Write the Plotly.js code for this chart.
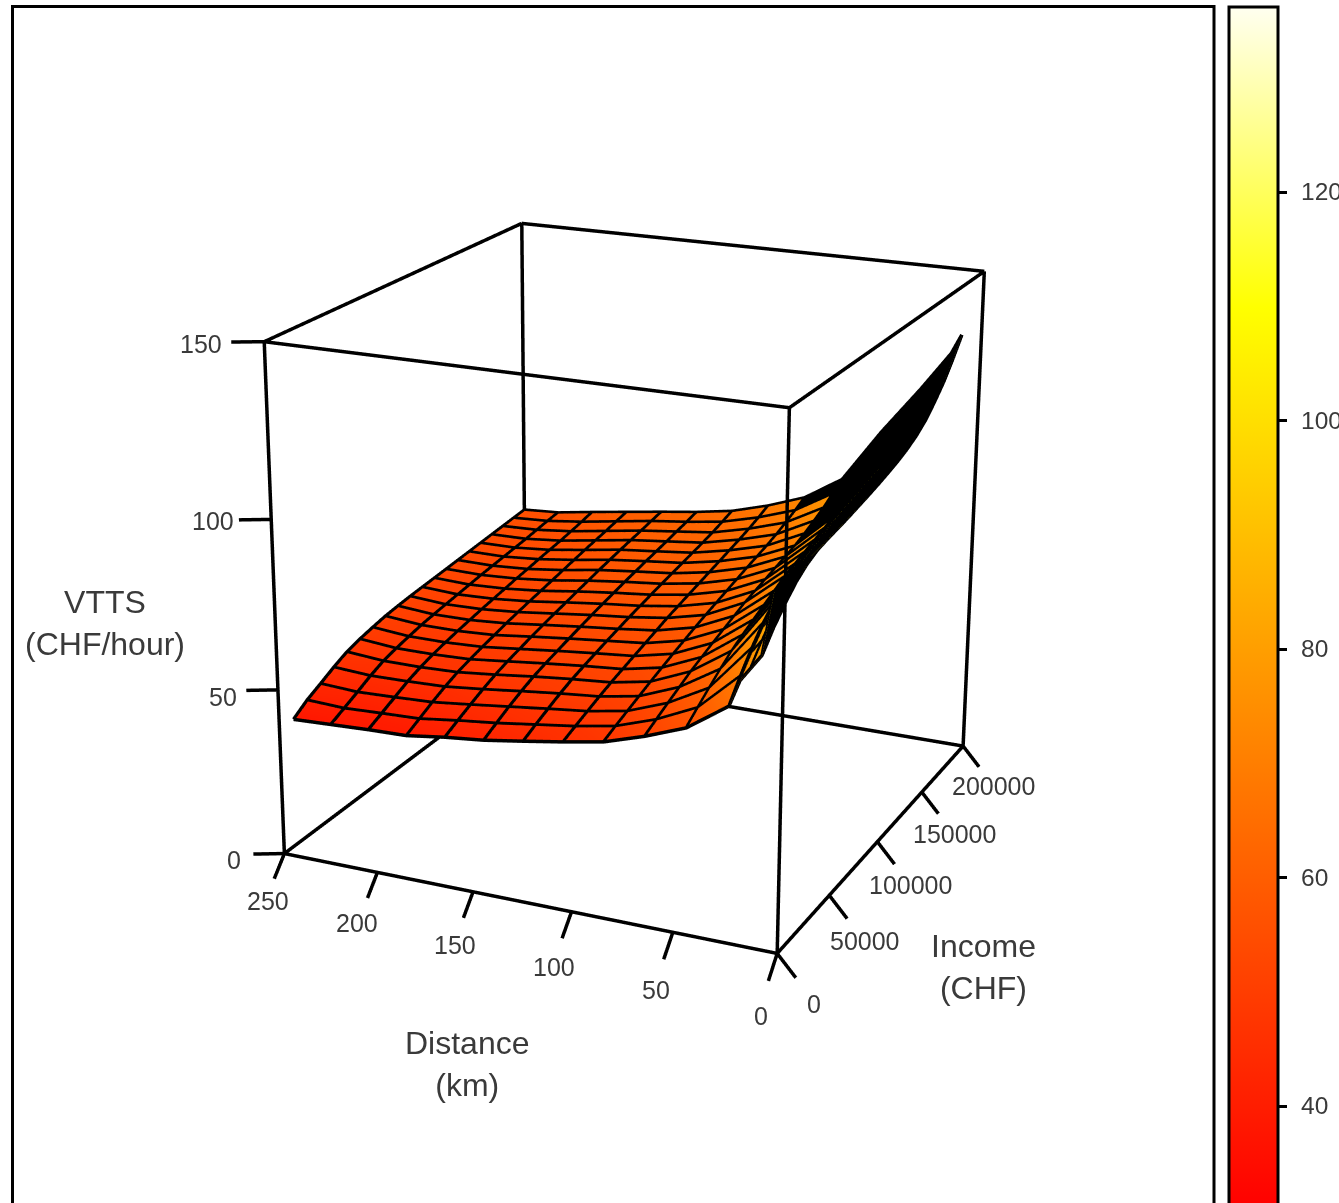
<!DOCTYPE html><html><head><meta charset="utf-8"><script src="https://cdn.plot.ly/plotly-3.0.1.min.js"></script>
<style>html,body{margin:0;padding:0;background:#fff;overflow:hidden;width:1339px;height:1203px}#g{position:absolute;left:0;top:-642px;width:1400px;height:2485px}svg text{filter:blur(0.45px)}</style></head><body><div id="g"></div>
<script>
const distances=[250,230,210,190,170,150,130,110,90,70,50,30,25,20,15,10];
const incomes=[10000,20000,30000,40000,50000,60000,70000,80000,90000,100000,110000,120000,130000,140000,150000,160000,170000,180000,190000,200000];
const vttsD250=[38,41,43.2,45.5,47.5,48.8,49.8,50.7,51.3,51.8,52.2,52.6,53,53.4,53.8,54.2,54.6,55,55.4,55.8];
const vttsD230=[38.5,40.5,42.6,44.8,46.6,47.8,48.8,49.7,50.4,51,51.6,52.2,52.8,53.3,53.8,54.3,54.8,55.4,56,56.5];
const vttsD210=[39,41,43,45,46.6,47.8,48.8,49.7,50.5,51.3,52,52.7,53.4,54,54.7,55.3,55.9,56.6,57.4,58.3];
const vttsD190=[39.3,41.4,43.5,45.4,47,48.2,49.3,50.3,51.3,52.2,53,53.8,54.6,55.4,56.2,57,57.7,58.4,59.2,60];
const vttsD170=[40.9,42.9,44.8,46.6,48.2,49.5,50.6,51.7,52.7,53.6,54.5,55.4,56.3,57.2,58,58.8,59.5,60.2,61,61.7];
const vttsD150=[42.1,44.2,46.2,48,49.6,50.8,51.9,53,54,55,55.9,56.8,57.7,58.5,59.3,60,60.8,61.6,62.4,63.3];
const vttsD130=[43.9,45.8,47.6,49.3,50.8,52,53.1,54.2,55.2,56.2,57.1,58,58.9,59.7,60.5,61.3,62.1,63,64.1,65.3];
const vttsD110=[45.8,47.4,48.9,50.4,51.8,53,54.2,55.4,56.6,57.8,58.8,59.8,60.8,61.8,62.8,63.8,64.8,65.9,67.2,68.7];
const vttsD90=[47.9,49.5,51,52.5,54,55.4,56.8,58.1,59.4,60.6,61.7,62.8,63.9,65,66,67,68.2,69.6,71.2,73];
const vttsD70=[51.6,53.5,55.4,57.2,59,60.5,62,63.4,64.8,66.2,67.2,68.2,69.2,70.2,71.2,72.6,74.2,76,78.2,80.5];
const vttsD50=[56.1,59,61.8,64.5,67,69,70.8,72.5,74.2,76,77.2,78.4,79.6,80.8,82,84,86.4,89.2,92.8,97];
const vttsD30=[64.3,70,75.2,79.6,83,85,87,88.7,90.4,92,93,94,95,96,97,99.2,101.8,104.8,108.2,112];
const vttsD25=[72,77,81.5,85.5,88.5,90.2,91.8,93.2,94.6,96,97,98,99,100,101,103.2,105.8,108.8,112.2,116];
const vttsD20=[76,81,85.5,89,91.5,93.2,94.8,96.2,97.6,99,100,101,102,103,104,106.4,109.2,112.4,116,120];
const vttsD15=[80,85,89,92.5,95,96.6,97.8,99,100.2,101.4,102.6,103.8,105,106.2,107.6,110,113.2,116.4,120,124];
const vttsD10=[98,98.3,98.7,99.2,99.8,100.4,101,101.7,102.5,103.3,104.2,105.2,106.3,107.7,109.5,112,115.5,119.5,124.5,130];
const columns=[vttsD250,vttsD230,vttsD210,vttsD190,vttsD170,vttsD150,vttsD130,vttsD110,vttsD90,vttsD70,vttsD50,vttsD30,vttsD25,vttsD20,vttsD15,vttsD10];
// income from which the dense mesh reads as solid black, per distance
const solidFromIncome={90:190000,70:150000,50:110000,30:50000,25:40000,20:30000,15:10000,10:10000};
const distTicks=[250,200,150,100,50,0];
const incomeTicks=[0,50000,100000,150000,200000];
const vttsTicks=[0,50,100,150];
const barTicks=[40,60,80,100,120];

const W=1400,H=2485,TOP=-642;
const fx=p=>p/W, fy=p=>1-(p-TOP)/H;
const black='#000', txt='#3a3a3a', LW=7;
const xs=distances.map(d=>-d);
const zRows=incomes.map((_,r)=>columns.map(c=>c[r]));
const solidRows=off=>incomes.map((inc,r)=>distances.map((d,c)=>(solidFromIncome[d]!==undefined&&inc>=solidFromIncome[d])?columns[c][r]+off:null));

// mesh lines
const LIFT=0.25;
const gx=[],gy=[],gz=[];
incomes.forEach((inc,r)=>{xs.forEach((x,c)=>{gx.push(x);gy.push(inc);gz.push(zRows[r][c]+LIFT)});gx.push(null);gy.push(null);gz.push(null)});
xs.forEach((x,c)=>{incomes.forEach((inc,r)=>{gx.push(x);gy.push(inc);gz.push(zRows[r][c]+LIFT)});gx.push(null);gy.push(null);gz.push(null)});

// box + ticks
const D0=distTicks[0],I1=incomeTicks[incomeTicks.length-1],Z1=vttsTicks[vttsTicks.length-1];
const edges=[
[[D0,0,0],[0,0,0]],[[0,0,0],[0,I1,0]],[[0,I1,0],[D0,I1,0]],[[D0,I1,0],[D0,0,0]],
[[D0,0,Z1],[0,0,Z1]],[[0,0,Z1],[0,I1,Z1]],[[0,I1,Z1],[D0,I1,Z1]],[[D0,I1,Z1],[D0,0,Z1]],
[[D0,0,0],[D0,0,Z1]],[[0,0,0],[0,0,Z1]],[[0,I1,0],[0,I1,Z1]],[[D0,I1,0],[D0,I1,Z1]]];
vttsTicks.forEach(v=>edges.push([[D0,0,v],[D0+13,-5100,v]]));
distTicks.forEach(d=>edges.push([[d,0,0],[d,-7700,-5.3]]));
incomeTicks.forEach(i=>edges.push([[0,i,0],[-9,i,-6]]));
const bx=[],by=[],bz=[];
edges.forEach(e=>{e.forEach(p=>{bx.push(-p[0]);by.push(p[1]);bz.push(p[2])});bx.push(null);by.push(null);bz.push(null)});

const tickFont={family:'Liberation Sans, Arial, sans-serif',size:25,color:txt};
const titleFont={family:'Liberation Sans, Arial, sans-serif',size:32,color:txt};
const sceneAnn=(x,y,z,text,xs_,ys_)=>({x,y,z,text:String(text),showarrow:false,xshift:xs_,yshift:-ys_,font:tickFont});
const vShift=[[-50,6],[-55,7],[-58,2],[-63,2]];
const dShift=[[-16,47],[-20,51],[-18,53],[-17,55],[-17,58],[-16,63]];
const iShift=[[37,51],[36,46],[33,43],[33,42],[30,40]];
const annotations3d=[
 ...vttsTicks.map((v,i)=>sceneAnn(-D0,0,v,v,vShift[i][0],vShift[i][1])),
 ...distTicks.map((d,i)=>sceneAnn(-d,0,0,d,dShift[i][0],dShift[i][1])),
 ...incomeTicks.map((v,i)=>sceneAnn(0,v,0,v,iShift[i][0],iShift[i][1]))
];
const hid={showbackground:false,showgrid:false,showline:false,showticklabels:false,zeroline:false,showspikes:false,ticks:'',title:{text:''}};
const flat={ambient:1,diffuse:0,specular:0,roughness:1,fresnel:0};
const solid=off=>({type:'surface',x:xs,y:incomes,z:solidRows(off),cmin:0,cmax:150,colorscale:[[0,black],[1,black]],showscale:false,lighting:flat,hoverinfo:'skip'});
const data=[
{type:'surface',x:xs,y:incomes,z:zRows,cmin:31,cmax:136.2,
 colorscale:[[0,'#FF0000'],[0.75,'#FFFF00'],[1,'#FFFFF0']],
 lighting:flat,hoverinfo:'skip',
 colorbar:{thickness:49,len:1202,lenmode:'pixels',x:fx(1229),xanchor:'left',xpad:0,ypad:0,y:fy(7),yanchor:'top',
  outlinewidth:3,outlinecolor:black,borderwidth:0,ticks:'outside',ticklen:8,tickwidth:3,tickcolor:black,
  tickmode:'array',tickvals:barTicks,showticklabels:false}},
solid(0.4),solid(-0.4),
{type:'scatter3d',mode:'lines',x:gx,y:gy,z:gz,line:{color:black,width:LW},hoverinfo:'skip',showlegend:false,connectgaps:false},
{type:'scatter3d',mode:'lines',x:bx,y:by,z:bz,line:{color:black,width:LW},hoverinfo:'skip',showlegend:false,connectgaps:false}
];
const barLabelY={40:1105,60:877,80:648,100:420,120:191};
const center={showarrow:false,xanchor:'center',yanchor:'middle',align:'center',font:titleFont,xref:'paper',yref:'paper'};
const layout={width:W,height:H,margin:{l:0,r:0,t:0,b:0,autoexpand:false},paper_bgcolor:'#fff',showlegend:false,
 scene:{domain:{x:[0,1200/W],y:[0,1]},bgcolor:'rgba(0,0,0,0)',
  xaxis:{...hid,range:[-300,50]},yaxis:{...hid,range:[-50000,250000]},zaxis:{...hid,range:[-25,175]},
  aspectmode:'manual',aspectratio:{x:1.4,y:1.5585,z:1.3307},
  camera:{eye:{x:2.203,y:-4.964,z:1.884},center:{x:-0.057,y:-0.055,z:-0.076},up:{x:0,y:0,z:1},projection:{type:'perspective'}},
  annotations:annotations3d},
 annotations:[
  {...center,x:fx(105),y:fy(623),text:'VTTS<br>(CHF/hour)'},
  {...center,x:fx(467),y:fy(1064),text:'Distance<br>(km)'},
  {...center,x:fx(983),y:fy(967),text:'Income<br>(CHF)'},
  ...barTicks.map(v=>({xref:'paper',yref:'paper',x:fx(1299),y:fy(barLabelY[v]),xanchor:'left',yanchor:'middle',showarrow:false,text:String(v),font:{family:'Liberation Sans, Arial, sans-serif',size:24.5,color:txt}}))],
 shapes:[{type:'rect',xref:'paper',yref:'paper',x0:fx(12.5),x1:fx(1214),y0:fy(6.5),y1:fy(1300),line:{color:black,width:3},fillcolor:'rgba(0,0,0,0)'}]
};
Plotly.newPlot('g',data,layout,{displayModeBar:false,responsive:false});
</script></body></html>
